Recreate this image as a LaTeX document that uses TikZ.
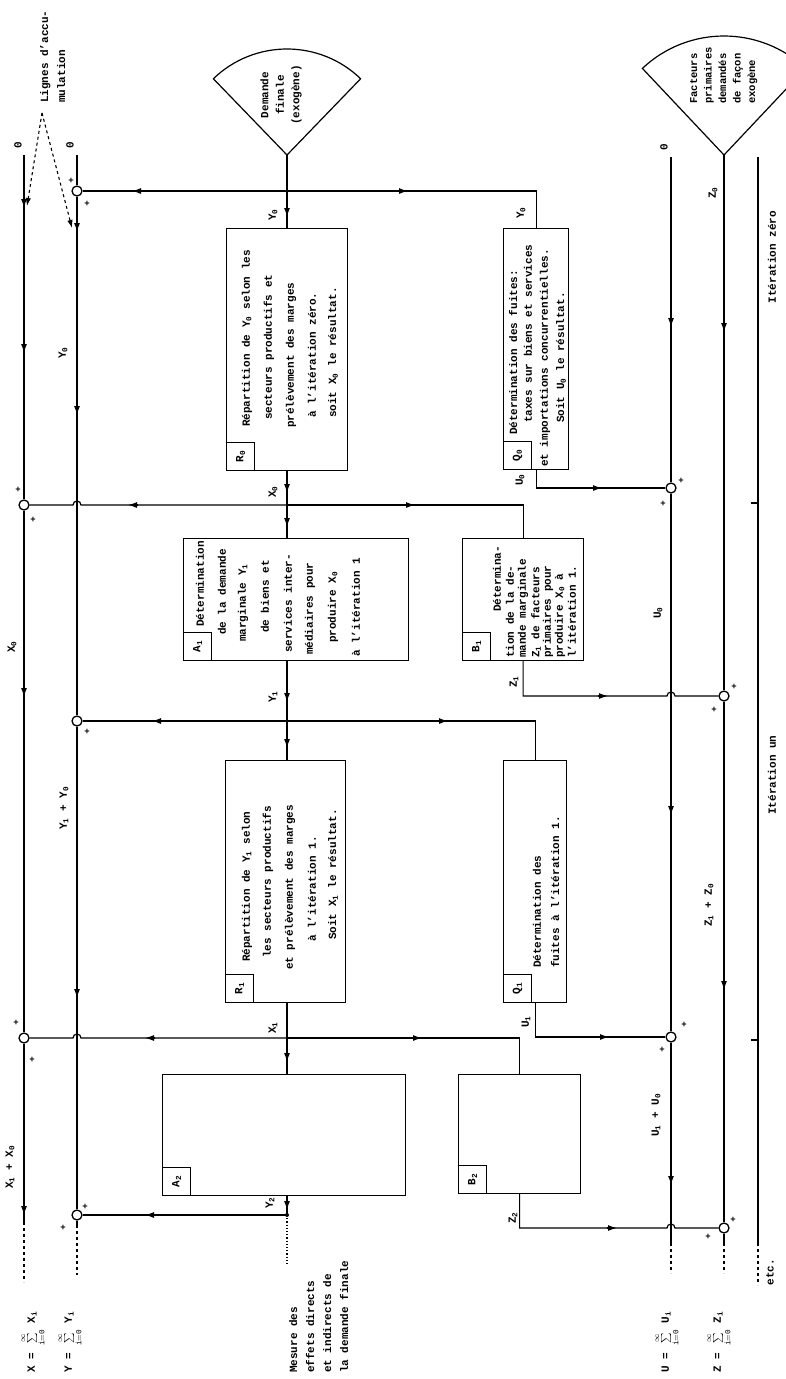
\documentclass[tikz,border=0pt]{standalone}
\usepackage{fontspec}
\setmainfont{Liberation Mono}
\usetikzlibrary{arrows.meta}
\newcommand\sub[1]{\textsubscript{#1}}
\newcounter{blc}
\newcommand\boxline[3]{\stepcounter{blc}\node[bt, anchor=west] (bl\arabic{blc}) at (#1,#2) {#3};}
\newcommand\ahD[2]{\draw[ah] (#1,#2-5) -- (#1,#2+5);}
\newcommand\ahL[2]{\draw[ah] (#1+5,#2) -- (#1-5,#2);}
\newcommand\ahR[2]{\draw[ah] (#1-5,#2) -- (#1+5,#2);}
\tikzset{
 ln/.style={line width=1.2pt},
 ah/.style={line width=1.2pt, -{Latex[length=9pt,width=6pt]}},
 bx/.style={draw, line width=1.2pt, inner sep=0pt, anchor=north west},
 lsq/.style={draw, line width=1.2pt, minimum size=28pt, inner sep=0pt, anchor=south west, font=\bfseries\fontsize{11}{13}\selectfont},
 bt/.style={rotate=90, inner sep=0pt, font=\bfseries\fontsize{11}{13}\selectfont},
 lb/.style={rotate=90, inner sep=0pt, font=\bfseries\fontsize{11}{13}\selectfont},
 pl/.style={inner sep=0pt, font=\bfseries\fontsize{9}{10}\selectfont},
 sumc/.style={circle, draw, fill=white, line width=1.3pt, minimum size=10pt, inner sep=0pt},
}
\begin{document}
\begin{tikzpicture}[x=1pt,y=-1pt]
\fill[white] (0,0) rectangle (786,1379);
\useasboundingbox (0,0) rectangle (786,1379);

% ---------- exogenous inputs ----------
\coordinate (DFa) at (287,155);
\draw[ln] (DFa) -- ++(134:106pt) arc[start angle=134, end angle=46, radius=106pt] -- cycle;
\node[lb, align=center, font=\bfseries\fontsize{11}{15.5}\selectfont] (DF) at (281,95) {Demande\\finale\\(exogène)};
\coordinate (FPa) at (724,155);
\draw[ln] (FPa) -- ++(133.3:119pt) arc[start angle=133.3, end angle=46.7, radius=119pt] -- cycle;
\node[lb, align=left, anchor=north west, font=\bfseries\fontsize{10.5}{14.5}\selectfont] (FP) at (690,104) {Facteurs\\primaires\\demandés\\de façon\\exogène};

% ---------- boxes ----------
\node[bx, minimum width=121pt, minimum height=242pt] (R0) at (226,228) {};
\node[lsq] (R0l) at (R0.south west) {\rotatebox{90}{R\sub{0}}};
\node[bx, minimum width=65pt, minimum height=241pt] (Q0) at (503,228) {};
\node[lsq] (Q0l) at (Q0.south west) {\rotatebox{90}{Q\sub{0}}};
\node[bx, minimum width=225pt, minimum height=122pt] (A1) at (183,538) {};
\node[lsq] (A1l) at (A1.south west) {\rotatebox{90}{A\sub{1}}};
\node[bx, minimum width=121pt, minimum height=122pt] (B1) at (462,538) {};
\node[lsq] (B1l) at (B1.south west) {\rotatebox{90}{B\sub{1}}};
\node[bx, minimum width=120pt, minimum height=242pt] (R1) at (225,760) {};
\node[lsq] (R1l) at (R1.south west) {\rotatebox{90}{R\sub{1}}};
\node[bx, minimum width=63pt, minimum height=242pt] (Q1) at (503,760) {};
\node[lsq] (Q1l) at (Q1.south west) {\rotatebox{90}{Q\sub{1}}};
\node[bx, minimum width=243pt, minimum height=121pt] (A2) at (162,1074) {};
\node[lsq] (A2l) at (A2.south west) {\rotatebox{90}{A\sub{2}}};
\node[bx, minimum width=122pt, minimum height=119pt] (B2) at (458,1074) {};
\node[lsq] (B2l) at (B2.south west) {\rotatebox{90}{B\sub{2}}};

% ---------- box texts ----------
\boxline{247}{427}{Répartition de Y\sub{0} selon les}
\boxline{269}{420}{secteurs productifs et}
\boxline{291}{428}{prélèvement des marges}
\boxline{312}{418}{à l'itération zéro.}
\boxline{333}{418}{soit X\sub{0} le résultat.}

\boxline{513}{435}{Détermination des fuites:}
\boxline{528}{423}{taxes sur biens et services}
\boxline{545}{467}{et importations concurrentielles.}
\boxline{561}{423}{Soit U\sub{0} le résultat.}

\boxline{200}{627}{Détermination}
\boxline{222}{635}{de la demande}
\boxline{243}{642}{marginale Y\sub{1}}
\boxline{265}{633}{de biens et}
\boxline{288}{653}{services inter-}
\boxline{310}{655}{médiaires pour}
\boxline{333}{643}{produire X\sub{0}}
\boxline{356}{657}{à l'itération 1}

\boxline{497}{612}{Détermina-}
\boxline{510}{658}{tion de la de-}
\boxline{523}{658}{mande marginale}
\boxline{536}{658}{Z\sub{1} de facteurs}
\boxline{548}{658}{primaires pour}
\boxline{560}{658}{produire X\sub{0} à}
\boxline{572}{658}{l'itération 1.}

\boxline{247}{962}{Répartition de Y\sub{1} selon}
\boxline{268}{958}{les secteurs productifs}
\boxline{290}{970}{et prélèvement des marges}
\boxline{312}{942}{à l'itération 1.}
\boxline{333}{940}{Soit X\sub{1} le résultat.}

\boxline{537}{968}{Détermination des}
\boxline{555}{968}{fuites à l'itération 1.}

% ---------- sum circles ----------
\node[sumc] (cY0) at (77,191) {};
\node[sumc] (cX0) at (24,505) {};
\node[sumc] (cY1) at (77,721) {};
\node[sumc] (cX1) at (24,1038) {};
\node[sumc] (cY2) at (77,1215) {};
\node[sumc] (cU0) at (671,488) {};
\node[sumc] (cZ1) at (724,696) {};
\node[sumc] (cU1) at (671,1037) {};
\node[sumc] (cZ2) at (724,1228) {};

% ---------- accumulation lines ----------
\node[lb] (z1) at (18,145) {0};
\node[lb] (z2) at (70,145) {0};
\node[lb] (z3) at (664,147) {0};
\coordinate (Xt) at (24,155);
\coordinate (Yt) at (77,155);
\coordinate (Ut) at (671,157);
\draw[ln] (Xt) -- (cX0);
\draw[ln] (cX0) -- (cX1);
\draw[ln] (cX1) -- (24,1222) coordinate (Xe);
\draw[ln, dashed] (Xe) -- (24,1282);
\draw[ln] (Yt) -- (cY0);
\draw[ln] (cY0) -- (cY1);
\draw[ln] (cY1) -- (cY2);
\draw[ln] (cY2) -- (77,1225) coordinate (Ye);
\draw[ln, dashed] (Ye) -- (77,1275);
\draw[ln] (Ut) -- (cU0);
\draw[ln] (cU0) -- (cU1);
\draw[ln] (cU1) -- (671,1243) coordinate (Ue);
\draw[ln, dashed] (Ue) -- (671,1273);
\draw[ln] (FPa) -- (cZ1);
\draw[ln] (cZ1) -- (cZ2);
\draw[ln] (cZ2) -- (724,1243) coordinate (Ze);
\draw[ln, dashed] (Ze) -- (724,1273);
\draw[ln] (758,157) -- (758,1243) coordinate (Ie);
\draw[ln, dashed] (Ie) -- (758,1285);
\draw[ln] (751,503) -- (758,503);
\draw[ln] (751,1040) -- (758,1040);

% ---------- main flow ----------
\coordinate (J0) at (287,191);
\coordinate (J1) at (287,505);
\coordinate (J2) at (287,721);
\coordinate (J3) at (287,1038);
\coordinate (J4) at (287,1215);
\draw[ln] (DFa) -- (R0.north -| DFa);
\draw[ln] (R0.south -| DFa) -- (A1.north -| DFa);
\draw[ln] (A1.south -| DFa) -- (R1.north -| DFa);
\draw[ln] (R1.south -| DFa) -- (A2.north -| DFa);
\draw[ln] (A2.south -| DFa) -- (J4);
\fill (J4) circle[radius=2pt];
\draw[ln, dotted] (J4) -- (287,1265);

\draw[ln] (J0) -- (cY0);
\draw[ln] (J0) -| (Q0.north);
\draw[ln] (J1) -- (81,505) arc[start angle=0, end angle=180, radius=4pt] -- (cX0);
\draw[ln] (J1) -| (B1.north);
\draw[ln] (J2) -- (cY1);
\draw[ln] (J2) -| (Q1.north);
\draw[ln] (J3) -- (81,1038) arc[start angle=0, end angle=180, radius=4pt] -- (cX1);
\draw[ln] (J3) -| (B2.north);
\draw[ln] (J4) -- (cY2);

\draw[ln] (Q0.south) |- (cU0);
\draw[ln] (B1.south) |- (667,696) arc[start angle=180, end angle=0, radius=4pt] -- (cZ1);
\draw[ln] (Q1.south) |- (cU1);
\draw[ln] (B2.south) |- (667,1228) arc[start angle=180, end angle=0, radius=4pt] -- (cZ2);

% ---------- arrowheads ----------
\ahD{24}{203} \ahD{24}{348} \ahD{24}{692} \ahD{24}{1210}
\ahD{77}{227} \ahD{77}{410} \ahD{77}{993}
\ahD{671}{322} \ahD{671}{810} \ahD{671}{1180}
\ahD{724}{327} \ahD{724}{985}
\ahD{287}{212} \ahD{287}{488} \ahD{287}{522} \ahD{287}{697} \ahD{287}{743} \ahD{287}{1057} \ahD{287}{1205}
\ahL{137}{191} \ahL{133}{505} \ahL{157}{721} \ahL{150}{1038} \ahL{150}{1215}
\ahR{403}{191} \ahR{410}{505} \ahR{443}{721} \ahR{417}{1038}
\ahR{597}{488} \ahR{603}{696} \ahR{604}{1037} \ahR{612}{1228}

% ---------- accumulation-lines note ----------
\node[lb, align=left, anchor=north west, font=\bfseries\fontsize{11}{17}\selectfont] (LAt) at (40,103) {Lignes d'accu-\\mulation};
\coordinate (LA) at (42,113);
\draw[line width=1.1pt, dashed, -{Latex[length=8pt,width=5.5pt]}] (LA) -- (27,206);
\draw[line width=1.1pt, dashed, -{Latex[length=8pt,width=5.5pt]}] (LA) -- (72,228);

% ---------- flow labels ----------
\node[lb] (lY0) at (273,215) {Y\sub{0}};
\node[lb] (lX0) at (273,492) {X\sub{0}};
\node[lb] (lY1) at (273,697) {Y\sub{1}};
\node[lb] (lX1) at (273,1028) {X\sub{1}};
\node[lb] (lY2) at (270,1203) {Y\sub{2}};
\node[lb] (lY0q) at (521,213) {Y\sub{0}};
\node[lb] (lU0) at (520,480) {U\sub{0}};
\node[lb] (lZ1) at (514,682) {Z\sub{1}};
\node[lb] (lU1) at (526,1022) {U\sub{1}};
\node[lb] (lZ2) at (513,1218) {Z\sub{2}};
\node[lb] (lX0a) at (12,647) {X\sub{0}};
\node[lb] (lX1a) at (10,1167) {X\sub{1} + X\sub{0}};
\node[lb] (lY0a) at (63,353) {Y\sub{0}};
\node[lb] (lY1a) at (64,808) {Y\sub{1} + Y\sub{0}};
\node[lb] (lU0a) at (658,613) {U\sub{0}};
\node[lb] (lU1a) at (656,1115) {U\sub{1} + U\sub{0}};
\node[lb] (lZ0a) at (713,193) {Z\sub{0}};
\node[lb] (lZ1a) at (709,905) {Z\sub{1} + Z\sub{0}};
\node[lb] (it0) at (772,257) {Itération zéro};
\node[lb] (it1) at (772,775) {Itération un};
\node[lb] (etc) at (770,1272) {etc.};

% ---------- plus signs ----------
\node[pl] (p1) at (71,181) {+};
\node[pl] (p2) at (87,204) {+};
\node[pl] (p3) at (18,490) {+};
\node[pl] (p4) at (33,520) {+};
\node[pl] (p5) at (87,732) {+};
\node[pl] (p6) at (16,1023) {+};
\node[pl] (p7) at (32,1060) {+};
\node[pl] (p8) at (85,1207) {+};
\node[pl] (p9) at (63,1228) {+};
\node[pl] (p10) at (681,481) {+};
\node[pl] (p11) at (663,504) {+};
\node[pl] (p12) at (734,687) {+};
\node[pl] (p13) at (714,710) {+};
\node[pl] (p14) at (684,1025) {+};
\node[pl] (p15) at (662,1050) {+};
\node[pl] (p16) at (733,1220) {+};
\node[pl] (p17) at (708,1237) {+};

% ---------- bottom notes ----------
\node[lb] (fX) at (33,1342) {X = $\sum\limits_{\mathrm{i=0}}^{\infty}$ X\sub{i}};
\node[lb] (fY) at (70,1342) {Y = $\sum\limits_{\mathrm{i=0}}^{\infty}$ Y\sub{i}};
\node[lb] (fU) at (667,1342) {U = $\sum\limits_{\mathrm{i=0}}^{\infty}$ U\sub{i}};
\node[lb] (fZ) at (719,1342) {Z = $\sum\limits_{\mathrm{i=0}}^{\infty}$ Z\sub{i}};
\node[lb, align=left, anchor=north west, font=\bfseries\fontsize{11}{17}\selectfont] (mes) at (289,1373) {Mesure des\\effets directs\\et indirects de\\la demande finale};
\end{tikzpicture}
\end{document}
